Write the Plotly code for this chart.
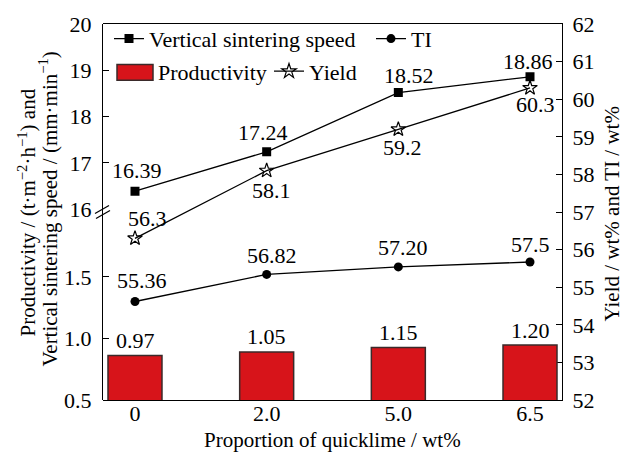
import plotly.graph_objects as go

# ---------------- data ----------------
x_labels = ['0', '2.0', '5.0', '6.5']
speed = [16.39, 17.24, 18.52, 18.86]
speed_labels = ['16.39', '17.24', '18.52', '18.86']
yield_vals = [56.3, 58.1, 59.2, 60.3]
yield_labels = ['56.3', '58.1', '59.2', '60.3']
ti_plot = [54.62, 55.34, 55.54, 55.67]
ti_labels = ['55.36', '56.82', '57.20', '57.5']
prod_plot = [0.861, 0.890, 0.927, 0.946]
prod_labels = ['0.97', '1.05', '1.15', '1.20']

# ---------------- layout constants ----------------
W, H = 631, 452
L, R, T, B = 103, 69, 19, 52
PW, PH = W - L - R, H - T - B
FONT = 'Liberation Serif, Times New Roman, serif'
FS = 22
FT = 21
RED = 'rgb(215,20,26)'
BREAK = 0.5073


def px_x(px):
    return (px - L) / PW


def px_y(py):
    return (H - B - py) / PH


fig = go.Figure()

fig.add_trace(go.Bar(
    x=x_labels, y=prod_plot, yaxis='y2', width=0.41,
    marker=dict(color=RED, line=dict(color='#3a2a2a', width=1.5)),
    showlegend=False, name='Productivity'))

fig.add_trace(go.Scatter(
    x=x_labels, y=speed, yaxis='y3', mode='lines+markers', name='Vertical sintering speed',
    line=dict(color='black', width=1.3),
    marker=dict(symbol='square', size=9, color='black'), legend='legend'))

fig.add_trace(go.Scatter(
    x=x_labels, y=ti_plot, yaxis='y', mode='lines+markers', name='TI',
    line=dict(color='black', width=1.3),
    marker=dict(symbol='circle', size=9, color='black'), legend='legend2'))

fig.add_trace(go.Scatter(
    x=x_labels, y=yield_vals, yaxis='y', mode='lines+markers', name='Yield',
    line=dict(color='black', width=1.3),
    marker=dict(symbol='star-open', size=11, color='black', line=dict(width=1.2, color='black')),
    legend='legend3'))

axis_common = dict(showgrid=False, zeroline=False, showline=True, linecolor='black', linewidth=1.2,
                   ticks='inside', ticklen=6, tickwidth=1.2, tickcolor='black',
                   tickfont=dict(family=FONT, size=FS, color='black'))

annotations = []
lbl_font = dict(family=FONT, size=FS, color='black')
speed_shift = [(2, 21), (-4, 19), (11, 17), (-2, 15)]
for i, (v, t, (dx, dy)) in enumerate(zip(speed, speed_labels, speed_shift)):
    annotations.append(dict(x=i, y=v, xref='x', yref='y3', text=t, showarrow=False,
                            xshift=dx, yshift=dy, font=lbl_font))
yield_shift = [(12, 20), (5, -20), (4, -18), (5, -17)]
for i, (v, t, (dx, dy)) in enumerate(zip(yield_vals, yield_labels, yield_shift)):
    annotations.append(dict(x=i, y=v, xref='x', yref='y', text=t, showarrow=False,
                            xshift=dx, yshift=dy, font=lbl_font))
ti_shift = [(7, 21), (5, 19), (5, 19), (0, 18)]
for i, (v, t, (dx, dy)) in enumerate(zip(ti_plot, ti_labels, ti_shift)):
    annotations.append(dict(x=i, y=v, xref='x', yref='y', text=t, showarrow=False,
                            xshift=dx, yshift=dy, font=lbl_font))
for i, (v, t) in enumerate(zip(prod_plot, prod_labels)):
    annotations.append(dict(x=i, y=v, xref='x', yref='y2', text=t, showarrow=False,
                            yshift=15, font=lbl_font))

title_font = dict(family=FONT, size=FT, color='black')
annotations.append(dict(x=0.5, y=px_y(441), xref='paper', yref='paper', showarrow=False,
                        text='Proportion of quicklime / wt%', xanchor='center', yanchor='middle',
                        font=title_font))
annotations.append(dict(x=px_x(27), y=px_y(210), xref='paper', yref='paper', showarrow=False,
                        text='Productivity / (t·m<sup>−2</sup>·h<sup>−1</sup>) and', textangle=-90,
                        xanchor='center', yanchor='middle', font=title_font))
annotations.append(dict(x=px_x(49), y=px_y(207), xref='paper', yref='paper', showarrow=False,
                        text='Vertical sintering speed / (mm·min<sup>−1</sup>)', textangle=-90,
                        xanchor='center', yanchor='middle', font=title_font))
annotations.append(dict(x=px_x(612), y=px_y(212), xref='paper', yref='paper', showarrow=False,
                        text='Yield / wt% and TI / wt%', textangle=-90,
                        xanchor='center', yanchor='middle', font=title_font))
# manual legend entry for the bars
annotations.append(dict(x=px_x(156), y=px_y(68), xref='paper', yref='paper', showarrow=False,
                        text='Productivity', xanchor='left', yanchor='middle', font=lbl_font))

shapes = [
    dict(type='rect', xref='paper', yref='paper', x0=px_x(117), x1=px_x(153), y0=px_y(76), y1=px_y(60),
         fillcolor=RED, line=dict(color='#3a2a2a', width=1.5)),
    # axis break marks
    dict(type='line', xref='paper', yref='paper', x0=px_x(95), y0=px_y(211), x1=px_x(109), y1=px_y(203),
         line=dict(color='black', width=1.2)),
    dict(type='line', xref='paper', yref='paper', x0=px_x(96), y0=px_y(216), x1=px_x(110), y1=px_y(208),
         line=dict(color='black', width=1.2)),
]

legend_common = dict(orientation='v', xanchor='left', yanchor='middle', bgcolor='rgba(0,0,0,0)',
                     borderwidth=0, font=lbl_font)

fig.update_layout(
    width=W, height=H,
    margin=dict(l=L, r=R, t=T, b=B, pad=0),
    paper_bgcolor='white', plot_bgcolor='rgba(0,0,0,0)',
    font=dict(family=FONT, size=FS, color='black'),
    xaxis=dict(axis_common, type='category', categoryorder='array', categoryarray=x_labels,
               range=[-0.243, 3.243], anchor='y', mirror=True, ticklabelstandoff=-7),
    yaxis=dict(axis_common, side='right', anchor='x', domain=[0, 1], range=[52, 62], dtick=1,
               tickmode='linear', tick0=52, ticklabelstandoff=5),
    yaxis2=dict(axis_common, side='left', anchor='x', domain=[0, BREAK], range=[0.5, 2.049],
                tickvals=[0.5, 1.0, 1.5], ticktext=['0.5', '1.0', '1.5'], ticklabelstandoff=6),
    yaxis3=dict(axis_common, side='left', anchor='x', domain=[BREAK, 1], range=[16, 20], dtick=1,
                tickmode='linear', tick0=16, ticklabelstandoff=6),
    legend=dict(legend_common, x=px_x(109), y=px_y(34)),
    legend2=dict(legend_common, x=px_x(371), y=px_y(34)),
    legend3=dict(legend_common, x=px_x(269), y=px_y(67)),
    annotations=annotations,
    shapes=shapes,
)

fig.write_html('out.html')
